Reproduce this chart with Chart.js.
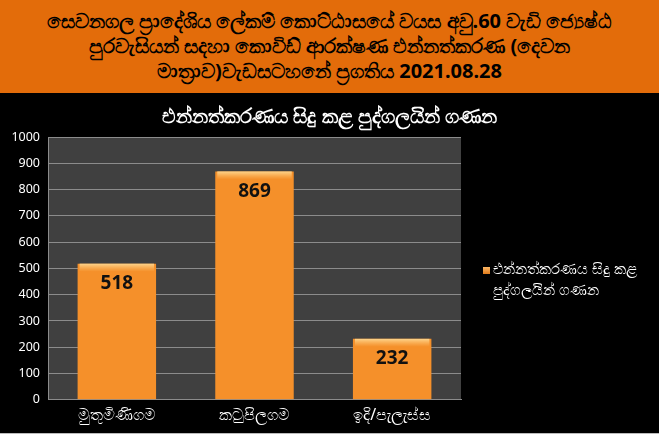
<!DOCTYPE html>
<html>
<head>
<meta charset="utf-8">
<script src="https://cdn.jsdelivr.net/npm/chart.js@4.4.0/dist/chart.umd.min.js"></script>
<style>
  body { margin: 0; background: #000; width: 659px; height: 434px; overflow: hidden; }
  #head {
    height: 93px; background: #e36c0a; color: #000;
    font-family: "Noto Sans", "DejaVu Sans", sans-serif; font-weight: bold;
    font-size: 20px; line-height: 25px; text-align: center;
    box-sizing: border-box; padding: 8px 0 0 0; white-space: nowrap;
  }
  #box { position: relative; width: 659px; height: 340px; background: #000; border-bottom: 1px solid #bbb; }
</style>
</head>
<body>
<div id="head">සෙවනගල ප්‍රාදේශිය ලේකම් කොට්ඨාසයේ වයස අවු.60 වැඩි ජ්‍යෙෂ්ඨ<br>පුරවැසියන් සදහා කොවිඩ් ආරක්ෂණ එන්නත්කරණ (දෙවන<br>මාත්‍රාව)වැඩසටහනේ ප්‍රගතිය 2021.08.28</div>
<div id="box"><canvas id="chart"></canvas></div>
<script>
    // දත්ත
    var categories = ["මුතුමිණිගම", "කටුපිලගම", "ඉදි/පැලැස්ස"];
    var vaccinated = [518, 869, 232];
    var seriesName = "එන්නත්කරණය සිදු කළ පුද්ගලයින් ගණන";
    var yTicks = [0, 100, 200, 300, 400, 500, 600, 700, 800, 900, 1000];

    var FONT = "'Noto Sans', 'DejaVu Sans', sans-serif";

    var barFill = function (context) {
        var area = context.chart.chartArea;
        var el = context.element;
        if (!area || !el || el.width === undefined) {
            return "#f5902a";
        }
        var c = context.chart.ctx;
        var g = c.createLinearGradient(el.x - el.width / 2, 0, el.x + el.width / 2, 0);
        g.addColorStop(0, "#d9731c");
        g.addColorStop(0.12, "#f3891f");
        g.addColorStop(0.5, "#fb9a35");
        g.addColorStop(0.88, "#f3891f");
        g.addColorStop(1, "#d06c18");
        return g;
    };

    var plotBg = {
        id: "plotBg",
        beforeDraw: function (chart) {
            var a = chart.chartArea, c = chart.ctx;
            c.save();
            c.fillStyle = "#404040";
            c.fillRect(a.left, a.top, a.right - a.left, a.bottom - a.top);
            c.restore();
        }
    };

    var barLabels = {
        id: "barLabels",
        afterDatasetsDraw: function (chart) {
            var c = chart.ctx;
            var meta = chart.getDatasetMeta(0);
            c.save();
            meta.data.forEach(function (bar, i) {
                // light bevel on top
                var g = c.createLinearGradient(0, bar.y, 0, bar.y + 8);
                g.addColorStop(0, "rgba(255,220,150,0.9)");
                g.addColorStop(1, "rgba(255,200,120,0)");
                c.fillStyle = g;
                c.fillRect(bar.x - bar.width / 2 + 2, bar.y, bar.width - 4, 8);
                c.fillStyle = "#111";
                c.font = "bold 19px " + FONT;
                c.textAlign = "center";
                c.textBaseline = "middle";
                c.fillText(String(vaccinated[i]), bar.x, bar.y + 20);
            });
            c.restore();
        }
    };

    var sideLegend = {
        id: "sideLegend",
        afterDraw: function (chart) {
            var c = chart.ctx;
            c.save();
            // title, centred on the whole width
            c.fillStyle = "#fff";
            c.font = "bold 20px " + FONT;
            c.textAlign = "center";
            c.textBaseline = "middle";
            c.fillText(seriesName, chart.width / 2, 24);
            // legend
            var sq = c.createLinearGradient(0, 173, 0, 181);
            sq.addColorStop(0, "#ffc070");
            sq.addColorStop(1, "#e07a1a");
            c.fillStyle = sq;
            c.fillRect(483, 174, 7, 7);
            c.fillStyle = "#fff";
            c.font = "15px " + FONT;
            c.textAlign = "left";
            c.fillText("එන්නත්කරණය සිදු කළ", 493, 177);
            c.fillText("පුද්ගලයින් ගණන", 493, 198);
            c.restore();
        }
    };

    var ctx = document.getElementById("chart").getContext("2d");
    new Chart(ctx, {
        type: "bar",
        data: {
            labels: categories,
            datasets: [{
                label: seriesName,
                data: vaccinated,
                backgroundColor: barFill,
                borderWidth: 0,
                barPercentage: 0.57,
                categoryPercentage: 1
            }]
        },
        options: {
            responsive: true,
            maintainAspectRatio: false,
            animation: false,
            layout: { padding: { left: 6, right: 198, top: 44, bottom: 2 } },
            plugins: {
                legend: { display: false },
                tooltip: { enabled: false },
                title: { display: false }
            },
            scales: {
                y: {
                    min: 0,
                    max: 1000,
                    afterBuildTicks: function (axis) {
                        axis.ticks = yTicks.map(function (v) { return { value: v }; });
                    },
                    afterFit: function (axis) { axis.width = 42; },
                    ticks: {
                        color: "#fff",
                        font: { family: FONT, size: 12.5 },
                        padding: 8,
                        callback: function (v) { return String(v); }
                    },
                    grid: { color: "#8c8c8c", drawTicks: false },
                    border: { color: "#8c8c8c" }
                },
                x: {
                    ticks: { color: "#fff", font: { family: FONT, size: 16 }, padding: 6 },
                    grid: { display: false, drawTicks: false },
                    border: { color: "#8c8c8c" }
                }
            }
        },
        plugins: [plotBg, barLabels, sideLegend]
    });
</script>
</body>
</html>
